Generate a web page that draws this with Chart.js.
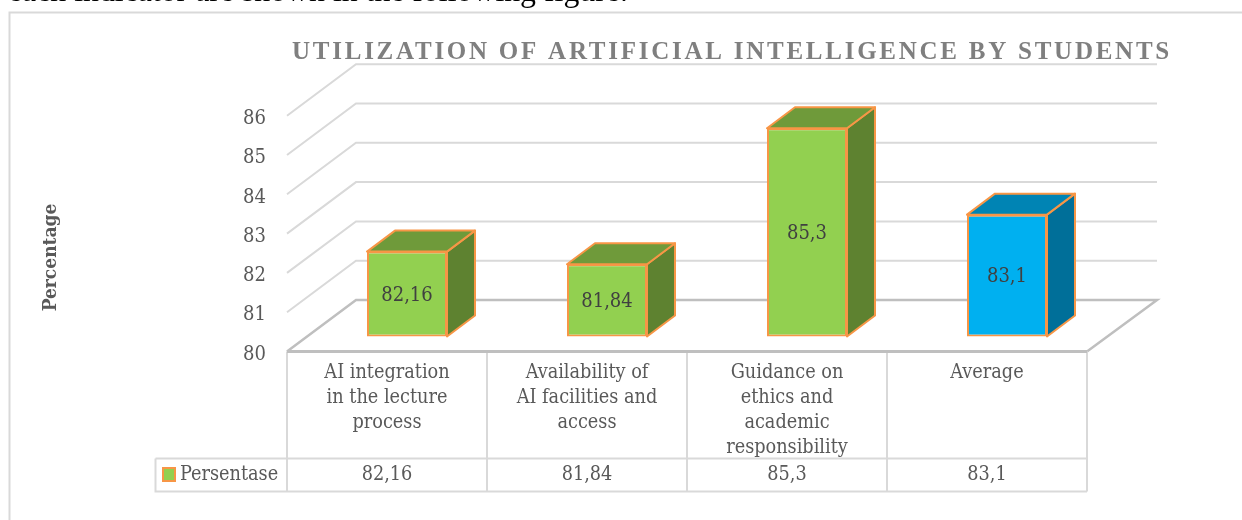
<!DOCTYPE html>
<html>
<head>
<meta charset="utf-8">
<script src="https://cdn.jsdelivr.net/npm/chart.js@4"></script>
<style>
html,body{margin:0;padding:0;background:#fff;overflow:hidden}
#wrap{width:1242px;height:520px;position:relative}
</style>
</head>
<body>
<div id="wrap"><canvas id="c" width="1242" height="520"></canvas></div>
<script>
const categories = [
  ['AI integration','in the lecture','process'],
  ['Availability of','AI facilities and','access'],
  ['Guidance on','ethics and','academic','responsibility'],
  ['Average']
];
const values = [82.16, 81.84, 85.3, 83.1];
const valueLabels = ['82,16', '81,84', '85,3', '83,1'];
const yTicks = [80, 81, 82, 83, 84, 85, 86];
const seriesName = 'Persentase';
const chartTitle = 'UTILIZATION OF ARTIFICIAL INTELLIGENCE BY STUDENTS';
const yTitle = 'Percentage';
const captionText = 'each indicator are shown in the following figure.';

const frontColors = ['#92D050','#92D050','#92D050','#00B0F0'];
const topColors   = ['#6F9A3A','#6F9A3A','#6F9A3A','#0084B4'];
const sideColors  = ['#5E8230','#5E8230','#5E8230','#006F99'];
const ORANGE = '#F79646', GRID = '#D9D9D9', FLOOR = '#BFBFBF', TXT = '#595959';
const SERIF = "'DejaVu Serif Condensed','DejaVu Serif',serif";

function line(ctx, pts, color, w){
  ctx.beginPath(); ctx.strokeStyle = color; ctx.lineWidth = w;
  pts.forEach((p,i)=> i ? ctx.lineTo(p[0],p[1]) : ctx.moveTo(p[0],p[1]));
  ctx.stroke();
}
function poly(ctx, pts, fill){
  ctx.beginPath();
  pts.forEach((p,i)=> i ? ctx.lineTo(p[0],p[1]) : ctx.moveTo(p[0],p[1]));
  ctx.closePath();
  ctx.fillStyle = fill; ctx.fill();
  ctx.strokeStyle = ORANGE; ctx.lineWidth = 2; ctx.lineJoin = 'round'; ctx.stroke();
}
const WALL_DX = 69, WALL_DY = 51.5, BAR_DX = 20, BAR_DY = 15, SIDE_DX = 28, SIDE_DY = 21;

const scene = {
  id: 'scene',
  beforeDatasetsDraw(chart){
    const ctx = chart.ctx, y = chart.scales.y, a = chart.chartArea;
    ctx.save();
    ctx.font = "31.8px 'Liberation Serif',serif"; ctx.fillStyle = '#000'; ctx.textAlign='left'; ctx.textBaseline='alphabetic';
    ctx.fillText(captionText, 8, 1);
    line(ctx, [[9.5,520],[9.5,12.5],[1242,12.5]], GRID, 2);
    ctx.font = "bold 25px 'Liberation Serif',serif"; ctx.fillStyle = '#7F7F7F';
    ctx.letterSpacing = '0px';
    const spacing = (880 - ctx.measureText(chartTitle).width) / chartTitle.length;
    ctx.letterSpacing = spacing + 'px';
    ctx.fillText(chartTitle, 292, 59);
    ctx.letterSpacing = '0px';
    ctx.save();
    ctx.translate(51, 257.5); ctx.rotate(-Math.PI/2);
    ctx.font = "bold 19px " + SERIF; ctx.fillStyle = TXT; ctx.textAlign='center'; ctx.textBaseline='middle';
    ctx.fillText(yTitle, 0, 0);
    ctx.restore();
    yTicks.slice(1).forEach(v=>{
      const py = y.getPixelForValue(v);
      line(ctx, [[a.left,py],[a.left+WALL_DX,py-WALL_DY],[a.right+70,py-WALL_DY]], GRID, 2);
    });
    const f = y.getPixelForValue(yTicks[0]);
    line(ctx, [[a.left,f],[a.left+WALL_DX,f-WALL_DY],[a.right+70,f-WALL_DY],[a.right,f]], FLOOR, 2.5);
    const x = chart.scales.x, top = f, mid = 458.5, bot = 491.5, keyLeft = 155.5;
    for(let i=0;i<=categories.length;i++){
      const px = i<categories.length ? x.getPixelForTick(i)-x.width/categories.length/2 : a.right;
      line(ctx, [[px,top],[px,bot]], GRID, 2);
    }
    line(ctx, [[keyLeft,mid],[a.right,mid]], GRID, 2);
    line(ctx, [[a.right,bot],[keyLeft,bot],[keyLeft,mid]], GRID, 2);
    line(ctx, [[a.left,f],[a.right,f]], FLOOR, 3);
    ctx.font = "19.7px " + SERIF; ctx.fillStyle = TXT; ctx.textBaseline='middle';
    ctx.textAlign='center';
    valueLabels.forEach((t,i)=> ctx.fillText(t, x.getPixelForTick(i), 475));
    ctx.textAlign='left';
    ctx.fillText(seriesName, 180, 475);
    ctx.fillStyle = frontColors[0]; ctx.fillRect(163,468,12,13);
    ctx.strokeStyle = ORANGE; ctx.lineWidth = 2; ctx.strokeRect(163,468,12,13);
    ctx.translate(BAR_DX, -BAR_DY);
    chart.getDatasetMeta(0).data.forEach((b,i)=>{
      const l=b.x-b.width/2, r=b.x+b.width/2, t=b.y, bs=b.base;
      poly(ctx, [[r,t],[r+SIDE_DX,t-SIDE_DY],[r+SIDE_DX,bs-SIDE_DY],[r,bs]], sideColors[i]);
      poly(ctx, [[l,t],[l+SIDE_DX,t-SIDE_DY],[r+SIDE_DX,t-SIDE_DY],[r,t]], topColors[i]);
    });
  },
  afterDatasetsDraw(chart){
    const ctx = chart.ctx;
    chart.getDatasetMeta(0).data.forEach((b,i)=>{
      ctx.font = "20px " + SERIF; ctx.fillStyle = '#404040'; ctx.textAlign='center'; ctx.textBaseline='middle';
      ctx.fillText(valueLabels[i], b.x, (b.y+b.base)/2+1.5);
    });
    ctx.restore();
  }
};

new Chart(document.getElementById('c'), {
  type: 'bar',
  data: {
    labels: categories,
    datasets: [{
      label: seriesName,
      data: values,
      base: yTicks[0],
      backgroundColor: frontColors,
      borderColor: ORANGE,
      borderWidth: 2,
      borderSkipped: false,
      barPercentage: 0.4,
      categoryPercentage: 1,
      clip: false
    }]
  },
  plugins: [scene],
  options: {
    responsive: false,
    animation: false,
    layout: { padding: { top: 115.7, right: 155, left: 0, bottom: 0 } },
    plugins: { legend: { display: false }, tooltip: { enabled: false }, title: { display: false } },
    scales: {
      x: {
        grid: { display: false, drawTicks: false },
        border: { display: false },
        ticks: { autoSkip: false, maxRotation: 0, minRotation: 0, padding: 9, color: TXT,
                 font: { family: SERIF, size: 19.7, lineHeight: 25/19.7 } },
        afterFit(s){ s.height = 168.5; }
      },
      y: {
        min: yTicks[0], max: yTicks[yTicks.length-1],
        grid: { display: false, drawTicks: false },
        border: { display: false },
        ticks: { stepSize: 1, padding: 21, color: TXT, font: { family: SERIF, size: 20, lineHeight: 0.3 },
                 callback: v => ['', String(v)] },
        afterFit(s){ s.width = 287; }
      }
    }
  }
});
</script>
</body>
</html>
